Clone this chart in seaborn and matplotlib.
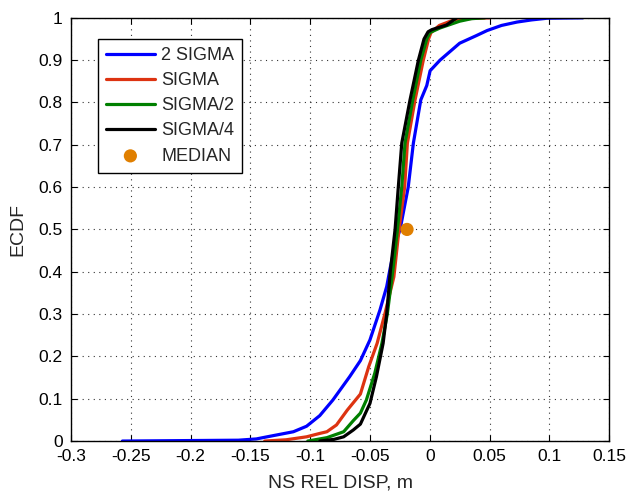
import numpy as np
import pandas as pd
import matplotlib
matplotlib.use("Agg")
import matplotlib.pyplot as plt
import seaborn as sns

# ECDF curves: displacement (m) and cumulative probability
sigma2_x = [-0.257, -0.160, -0.145, -0.136, -0.114, -0.103, -0.092, -0.081, -0.067, -0.058,
            -0.050, -0.0416, -0.036, -0.033, -0.0285, -0.0248, -0.018, -0.0137, -0.0075,
            -0.0025, 0.0003, 0.0086, 0.025, 0.039, 0.048, 0.060, 0.073, 0.085, 0.098, 0.128]
sigma2_p = [0.0, 0.002, 0.005, 0.010, 0.022, 0.035, 0.060, 0.097, 0.152, 0.190,
            0.239, 0.310, 0.365, 0.410, 0.470, 0.500, 0.600, 0.704, 0.806,
            0.840, 0.875, 0.900, 0.940, 0.958, 0.970, 0.982, 0.990, 0.995, 0.999, 1.0]

sigma_x = [-0.138, -0.120, -0.103, -0.092, -0.086, -0.078, -0.069, -0.058, -0.051, -0.044,
           -0.0374, -0.030, -0.0257, -0.021, -0.0187, -0.0123, -0.0054, -0.001, 0.001,
           0.008, 0.020, 0.030, 0.050]
sigma_p = [0.0, 0.003, 0.010, 0.018, 0.022, 0.038, 0.073, 0.111, 0.176, 0.231,
           0.302, 0.388, 0.500, 0.600, 0.704, 0.806, 0.900, 0.950, 0.965,
           0.982, 0.995, 0.998, 1.0]

half_x = [-0.102, -0.086, -0.072, -0.064, -0.058, -0.053, -0.046, -0.040, -0.0355, -0.031,
          -0.027, -0.0234, -0.0207, -0.0142, -0.0075, -0.0025, 0.0, 0.0086, 0.025, 0.035, 0.046]
half_p = [0.0, 0.008, 0.022, 0.048, 0.066, 0.097, 0.160, 0.231, 0.300, 0.400,
          0.500, 0.600, 0.704, 0.806, 0.900, 0.950, 0.965, 0.976, 0.992, 0.998, 1.0]

quarter_x = [-0.092, -0.080, -0.072, -0.064, -0.058, -0.050, -0.0446, -0.039, -0.036, -0.033,
             -0.029, -0.0263, -0.0234, -0.0165, -0.0095, -0.0048, -0.0014, 0.0017, 0.014, 0.0226]
quarter_p = [0.0, 0.004, 0.010, 0.026, 0.040, 0.089, 0.152, 0.231, 0.300, 0.400,
             0.500, 0.600, 0.704, 0.806, 0.900, 0.950, 0.967, 0.972, 0.983, 1.0]

median_x = [-0.019]
median_p = [0.5]

series_names = ["2 SIGMA", "SIGMA", "SIGMA/2", "SIGMA/4"]
series_colors = ["#0000FF", "#DD3311", "#008000", "#000000"]
series_data = [(sigma2_x, sigma2_p), (sigma_x, sigma_p), (half_x, half_p), (quarter_x, quarter_p)]

xticks = [-0.3, -0.25, -0.2, -0.15, -0.1, -0.05, 0, 0.05, 0.1, 0.15]
yticks = [0, 0.1, 0.2, 0.3, 0.4, 0.5, 0.6, 0.7, 0.8, 0.9, 1]

sns.set_style("ticks")
plt.rcParams["font.family"] = ["Liberation Sans", "DejaVu Sans"]

fig = plt.figure(figsize=(6.28, 4.95), dpi=100)
ax = fig.add_axes([0.113, 0.109, 0.857, 0.855])

for name, color, (xs, ps) in zip(series_names, series_colors, series_data):
    df = pd.DataFrame({"x": xs, "p": ps})
    sns.lineplot(data=df, x="x", y="p", ax=ax, color=color, linewidth=2.3,
                 sort=False, estimator=None, label=name)

sns.scatterplot(x=median_x, y=median_p, ax=ax, color="#E07F00", s=90,
                edgecolor="none", label="MEDIAN", zorder=5)

ax.set_xlim(-0.3, 0.15)
ax.set_ylim(0, 1)
ax.set_xticks(xticks)
ax.set_yticks(yticks)
ax.set_xticklabels([f"{t:g}" if t != 0 else "0" for t in xticks])
ax.set_yticklabels([f"{t:g}" for t in yticks])
ax.tick_params(direction="in", top=True, right=True, length=4, width=0.8,
               labelsize=12.5, colors="black")
ax.tick_params(axis="x", pad=6)
ax.tick_params(axis="y", pad=6)
for sp in ax.spines.values():
    sp.set_visible(True)
    sp.set_color("black")
    sp.set_linewidth(1.0)
ax.grid(True, linestyle=(0, (1, 4)), color="black", linewidth=0.8, alpha=0.8)
ax.set_axisbelow(True)

ax.set_xlabel("NS REL DISP, m", fontsize=14, labelpad=7)
ax.set_ylabel("ECDF", fontsize=14, labelpad=9)

leg = ax.legend(loc="upper left", bbox_to_anchor=(0.05, 0.95), fontsize=13,
                frameon=True, fancybox=False, handlelength=2.7, borderpad=0.45,
                labelspacing=0.45, handletextpad=0.35, borderaxespad=0)
leg.get_frame().set_edgecolor("black")
leg.get_frame().set_linewidth(1.0)
leg.get_frame().set_alpha(1)

fig.savefig("out.png", dpi=100)
